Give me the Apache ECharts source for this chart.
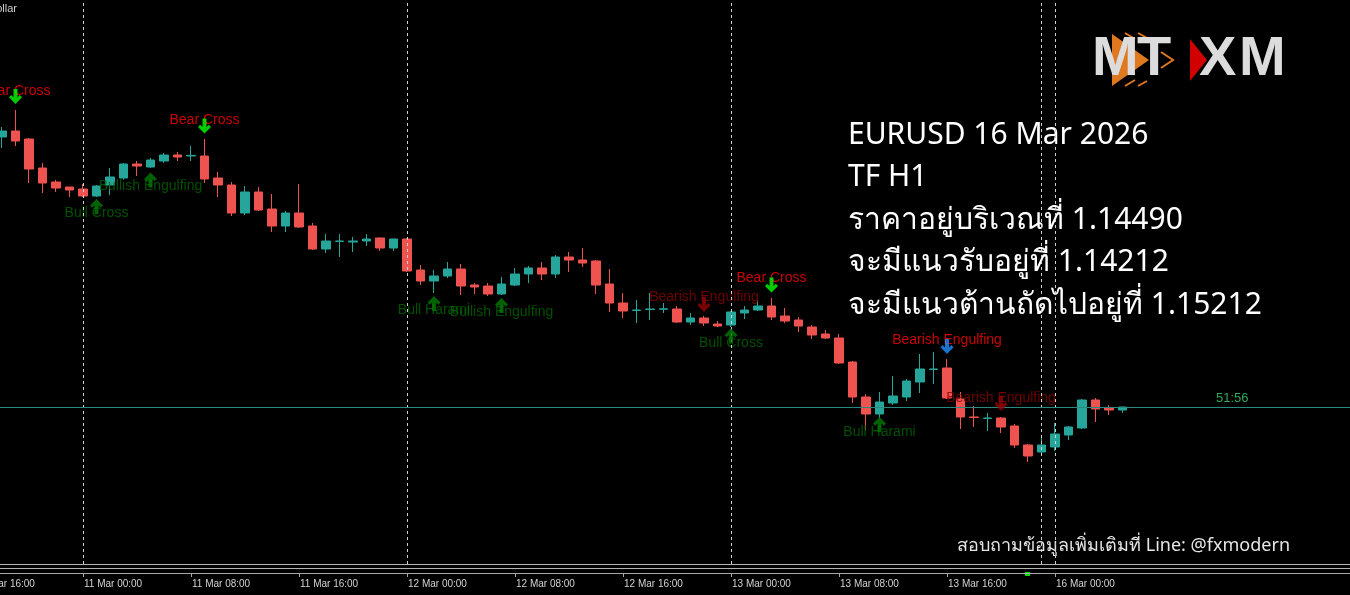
<!DOCTYPE html>
<html><head><meta charset="utf-8">
<script src="https://cdn.jsdelivr.net/npm/echarts@6/dist/echarts.min.js"></script>
<style>html,body{margin:0;padding:0;background:#000;}#chart{width:1350px;height:595px;}</style>
</head><body><div id="chart"></div>
<script>
// ---- timeline ----
const days = ['10 Mar','11 Mar','12 Mar','13 Mar','16 Mar'];
const dayFirstHour = [16, 0, 0, 0, 0];
const dayLastHour  = [23, 23, 23, 23, 22];
const firstCandle = '10 Mar 18:00';
const tickLabels = ['10 Mar 16:00','11 Mar 00:00','11 Mar 08:00','11 Mar 16:00','12 Mar 00:00','12 Mar 08:00','12 Mar 16:00','13 Mar 00:00','13 Mar 08:00','13 Mar 16:00','16 Mar 00:00'];
const separators = ['11 Mar 00:00','12 Mar 00:00','13 Mar 00:00','13 Mar 23:00','16 Mar 00:00'];

// ---- EURUSD H1 candles ----
const opens = [1.15840,1.15870,1.15830,1.15685,1.15615,1.15590,1.15580,1.15545,1.15600,1.15635,
1.15705,1.15690,1.15720,1.15750,1.15745,1.15745,1.15635,1.15600,1.15460,1.15565,
1.15480,1.15395,1.15460,1.15395,1.15280,1.15318,1.15315,1.15320,1.15335,1.15285,
1.15330,1.15175,1.15120,1.15145,1.15180,1.15100,1.15095,1.15055,1.15100,1.15155,
1.15185,1.15155,1.15240,1.15225,1.15220,1.15105,1.15010,1.14973,1.14978,1.14979,
1.14980,1.14915,1.14935,1.14905,1.14900,1.14960,1.14975,1.14995,1.14945,1.14925,
1.14890,1.14855,1.14835,1.14715,1.14540,1.14455,1.14510,1.14540,1.14615,1.14678,
1.14685,1.14530,1.14440,1.14433,1.14435,1.14395,1.14300,1.14265,1.14290,1.14350,
1.14385,1.14525,1.14485,1.14475];
const closes = [1.15870,1.15820,1.15680,1.15610,1.15585,1.15575,1.15545,1.15595,1.15640,1.15705,
1.15695,1.15725,1.15750,1.15740,1.15748,1.15630,1.15600,1.15460,1.15565,1.15475,
1.15395,1.15460,1.15390,1.15280,1.15320,1.15320,1.15320,1.15330,1.15285,1.15330,
1.15170,1.15120,1.15145,1.15180,1.15095,1.15090,1.15055,1.15105,1.15155,1.15185,
1.15155,1.15240,1.15225,1.15210,1.15100,1.15010,1.14970,1.14975,1.14980,1.14981,
1.14915,1.14935,1.14910,1.14895,1.14965,1.14975,1.14995,1.14940,1.14920,1.14895,
1.14850,1.14835,1.14710,1.14540,1.14455,1.14515,1.14545,1.14620,1.14680,1.14680,
1.14535,1.14440,1.14438,1.14435,1.14390,1.14300,1.14245,1.14300,1.14355,1.14390,
1.14525,1.14480,1.14475,1.14490];
const lows = [1.15785,1.15795,1.15610,1.15560,1.15565,1.15540,1.15540,1.15540,1.15550,1.15625,
1.15645,1.15685,1.15710,1.15720,1.15720,1.15610,1.15540,1.15445,1.15450,1.15470,
1.15365,1.15365,1.15385,1.15275,1.15260,1.15240,1.15265,1.15295,1.15270,1.15270,
1.15165,1.15100,1.15060,1.15135,1.15050,1.15055,1.15045,1.15050,1.15095,1.15110,
1.15125,1.15135,1.15165,1.15190,1.15055,1.14965,1.14935,1.14910,1.14925,1.14960,
1.14910,1.14900,1.14895,1.14890,1.14890,1.14930,1.14970,1.14925,1.14910,1.14865,
1.14830,1.14830,1.14705,1.14510,1.14375,1.14435,1.14500,1.14520,1.14560,1.14605,
1.14530,1.14380,1.14390,1.14370,1.14360,1.14285,1.14215,1.14250,1.14270,1.14325,
1.14380,1.14415,1.14450,1.14460];
const highs = [1.15890,1.15975,1.15835,1.15710,1.15625,1.15590,1.15605,1.15600,1.15685,1.15710,
1.15720,1.15735,1.15760,1.15765,1.15795,1.15830,1.15665,1.15615,1.15595,1.15590,
1.15555,1.15470,1.15605,1.15410,1.15355,1.15355,1.15340,1.15355,1.15338,1.15332,
1.15335,1.15200,1.15175,1.15215,1.15205,1.15110,1.15110,1.15140,1.15185,1.15195,
1.15215,1.15250,1.15265,1.15285,1.15225,1.15180,1.15060,1.15025,1.15060,1.15010,
1.14995,1.14960,1.14945,1.14920,1.14970,1.14995,1.15025,1.15035,1.14985,1.14940,
1.14900,1.14875,1.14855,1.14720,1.14555,1.14565,1.14645,1.14630,1.14755,1.14765,
1.14730,1.14565,1.14495,1.14460,1.14440,1.14405,1.14305,1.14340,1.14410,1.14395,
1.14530,1.14535,1.14500,1.14492];

// ---- signals (candle number, text, kind, arrow price, text price) ----
const signalIdx   = [1, 15, 7, 11, 32, 37, 52, 57, 54, 70, 65, 74];
const signalText  = ['Bear Cross','Bear Cross','Bull Cross','Bullish Engulfing','Bull Harami','Bullish Engulfing','Bearish Engulfing','Bear Cross','Bull Cross','Bearish Engulfing','Bull Harami','Bearish Engulfing'];
const signalKind  = ['bearCross','bearCross','bullCross','bull','bull','bull','bearWeak','bearCross','bullCross','bearStrong','bull','bearWeak'];
const arrowPrice  = [1.16043,1.15895,1.15493,1.15625,1.15008,1.14998,1.15003,1.15100,1.14845,1.14793,1.14403,1.14508];
const textPrice   = [1.16070,1.15925,1.15460,1.15595,1.14975,1.14965,1.15040,1.15135,1.14810,1.14825,1.14365,1.14535];

const infoLines = ['EURUSD 16 Mar 2026','TF H1','ราคาอยู่บริเวณที่ 1.14490','จะมีแนวรับอยู่ที่ 1.14212','จะมีแนวต้านถัดไปอยู่ที่ 1.15212'];
const contactText = 'สอบถามข้อมูลเพิ่มเติมที่ Line: @fxmodern';
const timerText = '51:56';

// ---- styles ----
const kindStyle = {
  bearCross:  {text:'#ff0000', arrow:'#00ff00', dir:'down'},
  bullCross:  {text:'#006400', arrow:'#007a00', dir:'up'},
  bull:       {text:'#006400', arrow:'#007a00', dir:'up'},
  bearWeak:   {text:'#8b0000', arrow:'#990000', dir:'down'},
  bearStrong: {text:'#ff0000', arrow:'#1e90ff', dir:'down'}
};
const downArrow = 'path://M4.5,0 L8.5,0 L8.5,8.5 L10.8,6.2 L13,8.4 L6.5,15 L0,8.4 L2.2,6.2 L4.5,8.5 Z';
const upArrow   = 'path://M4.5,15 L8.5,15 L8.5,6.5 L10.8,8.8 L13,6.6 L6.5,0 L0,6.6 L2.2,8.8 L4.5,6.5 Z';

const categories = [];
const pad = n => String(n).padStart(2,'0');
days.forEach((d,i)=>{ for(let h=dayFirstHour[i]; h<=dayLastHour[i]; h++) categories.push(d+' '+pad(h)+':00'); });
const offset = categories.indexOf(firstCandle);
const candleData = opens.map((o,k)=>[k+offset, o, closes[k], lows[k], highs[k]]);
const lastClose = closes[closes.length-1];
const lastIdx = offset + opens.length - 1;
const showTick = (i, v) => tickLabels.indexOf(v) >= 0 && i <= lastIdx;

const arrowData = signalIdx.map((k,i)=>{
  const st = kindStyle[signalKind[i]];
  return {value:[k+offset, arrowPrice[i]], symbol: st.dir==='down'?downArrow:upArrow, itemStyle:{color: st.arrow}};
});
const textData = signalIdx.map((k,i)=>{
  const st = kindStyle[signalKind[i]];
  return {value:[k+offset, textPrice[i]], name: signalText[i], label:{color: st.text}};
});

const chart = echarts.init(document.getElementById('chart'), null, {renderer:'canvas'});
const cellW = 13.5;
const FONT = '"Liberation Sans", Arial, sans-serif';
const LOGO = 'bold 56px "Liberation Sans", Arial, sans-serif';
const graphics = [
  {type:'rect', shape:{x:0,y:564,width:1350,height:1}, style:{fill:'#b4b4b4'}, silent:true},
  {type:'rect', shape:{x:0,y:568,width:1350,height:1}, style:{fill:'#b4b4b4'}, silent:true},
  {type:'rect', shape:{x:1025,y:572,width:5,height:4}, style:{fill:'#00e000'}, silent:true},
  {type:'text', x:17, y:9, style:{text:'Euro vs US Dollar', fill:'#cfcfcf', font:'11px '+FONT, align:'right', verticalAlign:'middle'}},
  {type:'text', x:1216, y:398, style:{text:timerText, fill:'#2fa85a', font:'13px '+FONT, align:'left', verticalAlign:'middle'}},
  {type:'text', x:1290, y:546, style:{text:contactText, fill:'#e6e6e6', font:'18px "Noto Sans", '+FONT, align:'right', verticalAlign:'middle'}},
  // logo
  {type:'polygon', shape:{points:[[1112,34],[1149,60],[1112,86]]}, style:{fill:'#e07820'}, silent:true, z:1},
  {type:'polyline', shape:{points:[[1125,33],[1135,39]]}, style:{stroke:'#e07820', lineWidth:2}, silent:true, z:1},
  {type:'polyline', shape:{points:[[1138,33],[1147,38]]}, style:{stroke:'#e07820', lineWidth:2}, silent:true, z:1},
  {type:'polyline', shape:{points:[[1161,52],[1173,60],[1161,68]]}, style:{stroke:'#e07820', lineWidth:2, fill:null}, silent:true, z:1},
  {type:'polyline', shape:{points:[[1125,86],[1135,80]]}, style:{stroke:'#e07820', lineWidth:2}, silent:true, z:1},
  {type:'polyline', shape:{points:[[1138,86],[1147,81]]}, style:{stroke:'#e07820', lineWidth:2}, silent:true, z:1},
  {type:'text', x:1092, y:60, style:{text:'M', fill:'#dcdcdc', font:LOGO, align:'left', verticalAlign:'middle'}, z:2},
  {type:'text', x:1137, y:60, style:{text:'T', fill:'#dcdcdc', font:LOGO, align:'left', verticalAlign:'middle'}, z:3},
  {type:'polygon', shape:{points:[[1190,39],[1207,60],[1190,81]]}, style:{fill:'#d00000'}, silent:true, z:2},
  {type:'text', x:1199, y:60, style:{text:'X', fill:'#dcdcdc', font:LOGO, align:'left', verticalAlign:'middle'}, z:3},
  {type:'text', x:1239, y:60, style:{text:'M', fill:'#dcdcdc', font:LOGO, align:'left', verticalAlign:'middle'}, z:3}
];
infoLines.forEach((t,i)=>{
  graphics.push({type:'text', x:848, y:135+i*42.5, style:{text:t, fill:'#ffffff', font:'30px "Noto Sans", '+FONT, align:'left', verticalAlign:'middle'}});
});

chart.setOption({
  backgroundColor:'#000000',
  animation:false,
  grid:{left:-31.75, top:0, width:categories.length*cellW, height:564, containLabel:false, outerBoundsMode:'none', show:false},
  xAxis:{
    type:'category', data:categories, boundaryGap:true, offset:9,
    axisLine:{show:true, lineStyle:{color:'#a8a8a8', width:1}},
    axisTick:{show:true, alignWithLabel:true, length:4, interval:showTick, lineStyle:{color:'#a8a8a8'}},
    axisLabel:{show:true, interval:showTick, align:'left', margin:6, color:'#d2d2d2', fontSize:10, fontFamily:FONT, padding:[0,0,0,1]},
    splitLine:{show:false}
  },
  yAxis:{type:'value', min:1.13705, max:1.16525, show:false, splitLine:{show:false}},
  series:[
    {
      type:'candlestick', data:candleData, encode:{x:0, y:[1,2,3,4]}, barWidth:9,
      itemStyle:{color:'#26a69a', color0:'#ef5350', borderColor:'#26a69a', borderColor0:'#ef5350', borderWidth:1},
      markLine:{
        silent:true, symbol:['none','none'], animation:false,
        label:{show:false},
        data: separators.map(s=>({xAxis:s, lineStyle:{color:'#d0d0d0', width:1, type:[3,3]}}))
      },
      z:3
    },
    {
      type:'scatter', data:textData, symbol:'rect', symbolSize:1, itemStyle:{color:'rgba(0,0,0,0)'},
      label:{show:true, position:'inside', formatter:p=>p.name, fontSize:14, fontFamily:FONT},
      z:4, silent:true
    },
    {
      type:'scatter', data:arrowData, symbolSize:[13,15], z:5, silent:true,
      markLine:{
        silent:true, symbol:['none','none'], animation:false, label:{show:false}, precision:5,
        data:[{yAxis:lastClose}],
        lineStyle:{color:'#2a8a80', width:1, type:'solid'}
      }
    }
  ],
  graphic: graphics
});
</script>
</body></html>
